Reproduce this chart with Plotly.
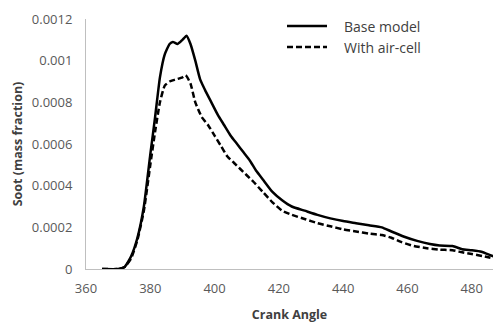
import plotly.graph_objects as go

# Crank angle (deg) and soot mass fraction for the two cases
angle_base = [365, 370, 372, 374, 376, 378, 380, 381.5, 383, 384.5, 386, 387, 388.5,
              390, 391.3, 392.5, 394, 395.5, 397, 399, 401, 403, 405, 407, 409, 411,
              413, 415, 418, 421, 424, 428, 432, 436, 440, 444, 448, 452, 455, 459,
              463, 467, 470, 474, 477, 480, 483, 486, 487]
soot_base = [0, 0, 0.00001, 0.00006, 0.00015, 0.0003, 0.00055, 0.00073, 0.00092,
             0.00103, 0.00108, 0.00109, 0.00108, 0.0011, 0.00112, 0.00108, 0.001,
             0.00091, 0.00086, 0.0008, 0.00074, 0.00069, 0.00064, 0.0006, 0.00056,
             0.00052, 0.00047, 0.00043, 0.00037, 0.00033, 0.0003, 0.00028, 0.00026,
             0.000243, 0.00023, 0.00022, 0.00021, 0.0002, 0.00018, 0.000155, 0.000135,
             0.00012, 0.000113, 0.00011, 0.000095, 0.00009, 0.000083, 0.000065, 0.00006]

angle_aircell = [365, 370, 372, 374, 376, 378, 380, 381.5, 383, 384.5, 386, 388, 390,
                 391, 392.5, 394, 396, 398, 400, 402, 404, 406, 408, 410, 412, 415,
                 418, 421, 424, 428, 432, 436, 440, 444, 448, 452, 455, 458, 462, 466,
                 470, 474, 477, 480, 484, 487]
soot_aircell = [0, 0, 0.00001, 0.00005, 0.00014, 0.00028, 0.0005, 0.00066, 0.0008,
                0.00088, 0.0009, 0.00091, 0.00092, 0.00093, 0.00089, 0.0008, 0.00073,
                0.00069, 0.00064, 0.00059, 0.00054, 0.00051, 0.00048, 0.00045, 0.00042,
                0.00037, 0.00032, 0.00028, 0.00026, 0.00024, 0.00022, 0.000205, 0.00019,
                0.00018, 0.00017, 0.000163, 0.00015, 0.00013, 0.00011, 0.0001, 0.000093,
                0.00009, 0.00008, 0.000072, 0.00006, 0.00005]

x_ticks = [360, 380, 400, 420, 440, 460, 480]
y_ticks = [0, 0.0002, 0.0004, 0.0006, 0.0008, 0.001, 0.0012]
y_tick_text = ["0", "0.0002", "0.0004", "0.0006", "0.0008", "0.001", "0.0012"]

series_names = ["Base model", "With air-cell"]

FONT = "Open Sans"
TICK_COLOR = "#595959"
TEXT_COLOR = "#404040"
DASH = "6px,3px"

fig = go.Figure()
fig.add_trace(go.Scatter(x=angle_base, y=soot_base, mode="lines", name=series_names[0],
                         line=dict(color="black", width=2.5, shape="spline", smoothing=0.5),
                         showlegend=False))
fig.add_trace(go.Scatter(x=angle_aircell, y=soot_aircell, mode="lines", name=series_names[1],
                         line=dict(color="black", width=2.5, dash=DASH, shape="spline",
                                   smoothing=0.5),
                         showlegend=False))

W, H = 493, 323
ml, mr, mt, mb = 86, 0, 19, 54

def px_x(p):
    return (p - ml) / (W - ml - mr)

def px_y(p):
    return (H - mb - p) / (H - mt - mb)

# Legend drawn as line samples with labels
for i, (name, dash) in enumerate(zip(series_names, ["solid", DASH])):
    yy = px_y(26 + 21 * i)
    fig.add_shape(type="line", xref="paper", yref="paper",
                  x0=px_x(287), x1=px_x(327), y0=yy, y1=yy,
                  line=dict(color="black", width=2.5, dash=dash))
    fig.add_annotation(xref="paper", yref="paper", x=px_x(342), y=yy, text=name,
                       showarrow=False, xanchor="left", yanchor="middle",
                       font=dict(family=FONT, size=14, color=TEXT_COLOR))

fig.update_layout(
    width=W, height=H,
    margin=dict(l=ml, r=mr, t=mt, b=mb),
    paper_bgcolor="white", plot_bgcolor="white",
    font=dict(family=FONT, color=TICK_COLOR),
    xaxis=dict(range=[360, 486.6], tickvals=x_ticks, showgrid=False, zeroline=False,
               showline=True, linecolor="#bfbfbf", linewidth=1, ticks="",
               tickfont=dict(size=13, color=TICK_COLOR), ticklabelstandoff=7,
               title=dict(text="<b>Crank Angle</b>", standoff=16,
                          font=dict(size=12.5, color=TEXT_COLOR))),
    yaxis=dict(range=[0, 0.0012], tickvals=y_ticks, ticktext=y_tick_text,
               showgrid=False, zeroline=False, showline=True, linecolor="#bfbfbf",
               linewidth=1, ticks="", tickfont=dict(size=13, color=TICK_COLOR),
               ticklabelstandoff=10,
               title=dict(text="<b>Soot (mass fraction)</b>", standoff=6,
                          font=dict(size=12.5, color=TEXT_COLOR))),
)

fig.write_html("out.html")
